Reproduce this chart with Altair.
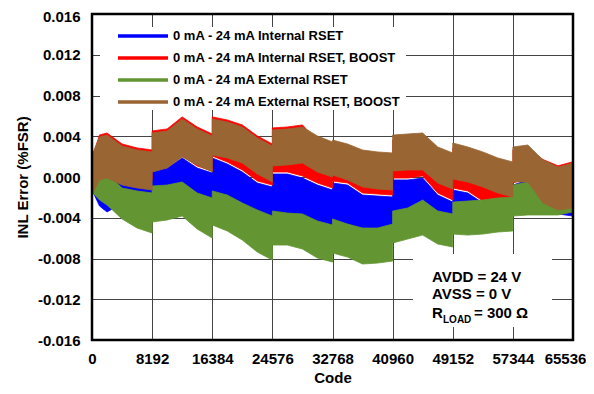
import altair as alt
import pandas as pd

# ---- data (INL error, %FSR) ----
codes = [0, 1024, 2048, 4096, 6144, 8191, 8192, 10240, 12288, 14336,
         16383, 16384, 18432, 20480, 22528, 24575, 24576, 26624, 28672, 30720,
         32767, 32768, 34816, 36864, 38912, 40959, 40960, 43008, 45056, 47104,
         49151, 49152, 51200, 53248, 55296, 57343, 57344, 59392, 61440, 63488,
         65535]

# Internal RSET (blue): band upper / lower envelope
int_hi = [0.00049, 0.00049, 0.00069, 0.00000, -0.00029, -0.00049, 0.00069, 0.00088, 0.00187, 0.00088,
          0.00039, 0.00187, 0.00128, 0.00049, -0.00059, -0.00098, 0.00029, 0.00029, -0.00010, -0.00079,
          -0.00128, -0.00059, -0.00079, -0.00177, -0.00187, -0.00196, -0.00029, -0.00029, -0.00010, -0.00177,
          -0.00246, -0.00128, -0.00157, -0.00255, -0.00275, -0.00275, -0.00079, -0.00029, 0.00088, 0.00088,
          0.00137]
int_lo = [-0.00128, -0.00285, -0.00344, -0.00258, -0.00287, -0.00307, -0.00238, -0.00229, -0.00199, -0.00307,
          -0.00356, -0.00287, -0.00327, -0.00405, -0.00474, -0.00533, -0.00484, -0.00504, -0.00513, -0.00582,
          -0.00621, -0.00562, -0.00612, -0.00651, -0.00651, -0.00612, -0.00484, -0.00454, -0.00376, -0.00484,
          -0.00513, -0.00396, -0.00386, -0.00376, -0.00356, -0.00346, -0.00229, -0.00360, -0.00350, -0.00363,
          -0.00383]

# Internal RSET, BOOST (red)
intb_hi = [0.00186, 0.00413, 0.00432, 0.00324, 0.00285, 0.00266, 0.00452, 0.00472, 0.00590, 0.00491,
           0.00423, 0.00590, 0.00560, 0.00511, 0.00403, 0.00324, 0.00482, 0.00491, 0.00511, 0.00354,
           0.00295, 0.00314, 0.00275, 0.00216, 0.00197, 0.00187, 0.00363, 0.00373, 0.00383, 0.00246,
           0.00187, 0.00285, 0.00246, 0.00197, 0.00138, 0.00098, 0.00265, 0.00284, 0.00172, 0.00110,
           0.00150]
intb_lo = [0.00069, 0.00069, 0.00088, 0.00020, -0.00010, -0.00029, 0.00088, 0.00108, 0.00206, 0.00108,
           0.00059, 0.00206, 0.00147, 0.00069, -0.00039, -0.00079, 0.00049, 0.00049, 0.00010, -0.00059,
           -0.00108, -0.00039, -0.00059, -0.00157, -0.00167, -0.00177, -0.00010, -0.00010, 0.00010, -0.00157,
           -0.00226, -0.00108, -0.00137, -0.00236, -0.00255, -0.00255, -0.00059, -0.00010, 0.00108, 0.00098,
           0.00127]

# External RSET (green)
ext_hi = [0.00069, 0.00010, 0.00029, -0.00108, -0.00137, -0.00157, -0.00088, -0.00079, -0.00049, -0.00157,
          -0.00206, -0.00137, -0.00177, -0.00255, -0.00324, -0.00383, -0.00334, -0.00354, -0.00363, -0.00432,
          -0.00471, -0.00412, -0.00462, -0.00501, -0.00501, -0.00462, -0.00334, -0.00304, -0.00226, -0.00334,
          -0.00363, -0.00246, -0.00236, -0.00226, -0.00206, -0.00196, -0.00079, -0.00049, -0.00088, -0.00088,
          -0.00059]
ext_lo = [-0.00147, -0.00226, -0.00275, -0.00412, -0.00501, -0.00550, -0.00442, -0.00422, -0.00383, -0.00511,
          -0.00599, -0.00471, -0.00530, -0.00619, -0.00737, -0.00815, -0.00668, -0.00668, -0.00707, -0.00795,
          -0.00835, -0.00746, -0.00786, -0.00854, -0.00845, -0.00825, -0.00648, -0.00609, -0.00570, -0.00658,
          -0.00687, -0.00560, -0.00570, -0.00560, -0.00540, -0.00530, -0.00383, -0.00373, -0.00373, -0.00373,
          -0.00344]

# External RSET, BOOST (brown)
extb_hi = [0.00216, 0.00393, 0.00412, 0.00304, 0.00265, 0.00246, 0.00432, 0.00452, 0.00570, 0.00471,
           0.00403, 0.00570, 0.00540, 0.00491, 0.00383, 0.00304, 0.00462, 0.00471, 0.00491, 0.00403,
           0.00344, 0.00363, 0.00324, 0.00265, 0.00246, 0.00236, 0.00412, 0.00422, 0.00432, 0.00295,
           0.00236, 0.00334, 0.00295, 0.00246, 0.00187, 0.00147, 0.00295, 0.00314, 0.00167, 0.00098,
           0.00137]
extb_lo = [-0.00177, -0.00029, -0.00010, -0.00079, -0.00108, -0.00128, 0.00049, 0.00088, 0.00196, 0.00118,
           0.00049, 0.00216, 0.00187, 0.00137, 0.00029, -0.00049, 0.00108, 0.00118, 0.00137, 0.00049,
           0.00000, 0.00020, -0.00029, -0.00098, -0.00118, -0.00128, 0.00059, 0.00069, 0.00069, -0.00059,
           -0.00118, -0.00020, -0.00049, -0.00098, -0.00157, -0.00196, -0.00049, -0.00049, -0.00255, -0.00324,
           -0.00304]

series_names = [
    "0 mA - 24 mA Internal RSET",
    "0 mA - 24 mA Internal RSET, BOOST",
    "0 mA - 24 mA External RSET",
    "0 mA - 24 mA External RSET, BOOST",
]
series_colors = ["#0000FF", "#FF0000", "#639632", "#996633"]

x_ticks = [0, 8192, 16384, 24576, 32768, 40960, 49152, 57344, 65536]
y_ticks = [-0.016, -0.012, -0.008, -0.004, 0.0, 0.004, 0.008, 0.012, 0.016]

notes = ["AVDD = 24 V", "AVSS = 0 V"]

# ---- table ----
rows = []
for name, lo, hi in zip(series_names,
                        [int_lo, intb_lo, ext_lo, extb_lo],
                        [int_hi, intb_hi, ext_hi, extb_hi]):
    for c, l, h in zip(codes, lo, hi):
        rows.append({"series": name, "code": c, "lo": l, "hi": h})
df = pd.DataFrame(rows)

W, H = 481, 326
FONT = "Liberation Sans"

xs = alt.Scale(domain=[0, 65536], nice=False, zero=False)
ys = alt.Scale(domain=[-0.016, 0.016], nice=False, zero=False)
cs = alt.Scale(domain=series_names, range=series_colors)

x_enc = alt.X("code:Q", scale=xs, axis=alt.Axis(
    values=x_ticks, format="d", title="Code", labelPadding=11, titlePadding=4,
    labelOverlap=False, labelFlush=False,
    labelOffset={"condition": {"test": "datum.value == 65536", "value": -8}, "value": 0}))
y_enc = alt.Y("hi:Q", scale=ys, axis=alt.Axis(
    values=y_ticks, title="INL Error (%FSR)",
    labelExpr="replace(format(datum.value, '.3f'), '\u2212', '-')",
    labelPadding=12, titlePadding=7, labelOverlap=False, labelFlush=False,
    labelOffset={"condition": {"test": "datum.value > 0.0159", "value": 2}, "value": 0}))

leg = alt.Legend(orient="none", legendX=44, legendY=15, title=None,
                 symbolType="M-5,0H5", symbolSize=100, symbolStrokeWidth=3.5,
                 labelFont=FONT, labelFontSize=13, labelFontWeight="bold",
                 labelColor="black", labelOffset=23, rowPadding=8, padding=0,
                 labelLimit=400)


def band(name):
    return alt.Chart(df).transform_filter(alt.datum.series == name).mark_area(
        interpolate="linear", strokeWidth=0.8
    ).encode(
        x=x_enc,
        y=y_enc,
        y2="lo:Q",
        fill=alt.Fill("series:N", scale=cs, legend=leg),
        stroke=alt.Stroke("series:N", scale=cs, legend=leg),
    )


one = pd.DataFrame({"k": [0]})

legend_bg = alt.Chart(one).mark_rect(color="white").encode(
    x=alt.value(8), x2=alt.value(314), y=alt.value(13), y2=alt.value(96))
note_bg = alt.Chart(one).mark_rect(color="white").encode(
    x=alt.value(321), x2=alt.value(460), y=alt.value(240), y2=alt.value(313))


def txt(s, x, y, size):
    return alt.Chart(pd.DataFrame({"t": [s]})).mark_text(
        font=FONT, fontSize=size, fontWeight="bold", color="black",
        align="left", baseline="alphabetic"
    ).encode(text="t:N", x=alt.value(x), y=alt.value(y))


note_layers = [
    txt(notes[0], 340, 268, 15),
    txt(notes[1], 340, 285, 15),
    txt("R", 340, 304, 15),
    txt("LOAD", 351, 309, 10),
    txt("= 300 \u03a9", 382, 304, 15),
]

frame = alt.Chart(one).mark_rect(filled=False, color="black", strokeWidth=2.5).encode(
    x=alt.value(0), x2=alt.value(W), y=alt.value(0), y2=alt.value(H))

chart = alt.layer(
    legend_bg, note_bg,
    band(series_names[0]), band(series_names[1]),
    band(series_names[2]), band(series_names[3]),
    *note_layers, frame
).properties(
    width=W, height=H, background="white",
    autosize=alt.AutoSizeParams(type="none"),
    padding={"left": 84, "top": 6, "right": 13, "bottom": 46},
).configure_view(stroke=None).configure_axis(
    labelFont=FONT, labelFontSize=15, labelFontWeight="bold", labelColor="black",
    titleFont=FONT, titleFontSize=15, titleFontWeight="bold", titleColor="black",
    domain=False, ticks=False, grid=True, gridColor="#444444", gridWidth=1,
    gridOpacity=1,
)

chart.save("out.html", embed_options={"renderer": "svg", "actions": False})
